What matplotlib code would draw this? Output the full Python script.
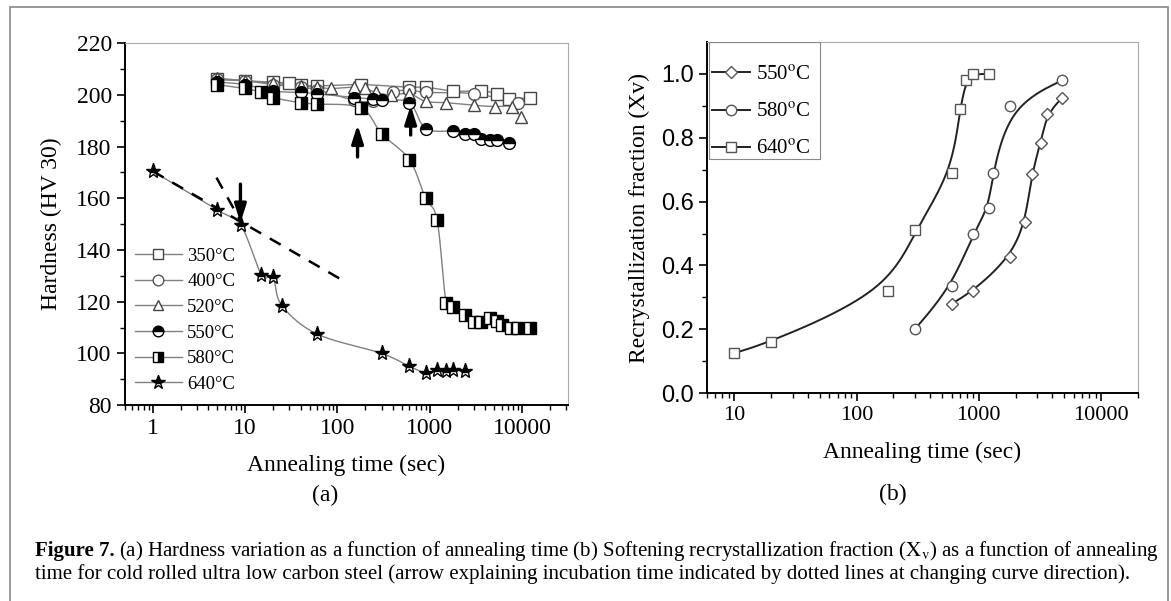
import numpy as np
import matplotlib.pyplot as plt
from matplotlib.patches import Rectangle

plt.rcParams['font.family'] = 'Liberation Serif'
plt.rcParams['mathtext.fontset'] = 'stix'

# ---- (a) hardness vs annealing time ----
t350 = [5, 10, 20, 30, 40, 60, 180, 600, 900, 1800, 3600, 5400, 7200, 12000]
hv350 = [206, 205.5, 205, 204.5, 204, 203.5, 204, 203, 203, 201.5, 201.5, 200.5, 198.5, 199]
t400 = [5, 10, 20, 40, 60, 150, 240, 400, 600, 900, 3000, 9000]
hv400 = [206, 205.5, 204, 203, 202, 198, 197.5, 201, 202, 201, 200.5, 197]
t520 = [5, 10, 20, 40, 60, 85, 150, 200, 260, 380, 600, 900, 1500, 3000, 5100, 7800, 9600]
hv520 = [206.5, 205.5, 204.5, 203.5, 203, 202.5, 203, 202.5, 201, 200, 200.5, 197.5, 197, 196, 195.5, 195.5, 191.5]
t550 = [5, 10, 20, 40, 60, 150, 240, 300, 600, 900, 1800, 2400, 3000, 3600, 4500, 5400, 7200]
hv550 = [205, 204, 201.5, 201, 200.5, 199, 198.5, 198, 197, 187, 186, 185, 185, 183, 182.5, 182.5, 181.5]
t580 = [5, 10, 15, 20, 40, 60, 180, 300, 600, 900, 1200, 1500, 1800, 2400, 3000, 3600,
        4500, 5400, 6000, 7500, 9000, 12000]
hv580 = [204, 202.5, 201, 199, 197, 196.5, 195, 185, 175, 160, 151.5, 119.5, 118, 115, 112, 112,
         113.5, 112.5, 111, 110, 110, 110]
t640 = [1, 5, 9, 15, 20, 25, 60, 300, 600, 900, 1200, 1500, 1800, 2400]
hv640 = [170.5, 155.5, 149.5, 130.5, 129.5, 118.5, 107.5, 100, 95, 92.5, 93.5, 93, 93.5, 93]

# incubation guide lines and arrows
guide1_t, guide1_hv = [1, 105], [170.5, 129]
guide2_t, guide2_hv = [4.9, 9], [168, 151]
arrows_a = [(8.9, 165.5, 8.9, 150.5), (165, 176, 165, 188.5), (620, 184.5, 620, 196)]

# ---- (b) recrystallization fraction ----
t_b550 = [600, 900, 1800, 2400, 2700, 3200, 3600, 4800]
xv550 = [0.28, 0.32, 0.425, 0.535, 0.685, 0.785, 0.875, 0.925]
t_b580 = [300, 600, 900, 1200, 1300, 1800, 4800]
xv580 = [0.20, 0.335, 0.50, 0.58, 0.69, 0.90, 0.98]
t_b640 = [10, 20, 180, 300, 600, 700, 790, 900, 1200]
xv640 = [0.125, 0.16, 0.32, 0.51, 0.69, 0.89, 0.98, 1.0, 1.0]


def catmull(xs, ys, n=25):
    # smooth curve through the points, in log-x space
    p = np.column_stack([np.log10(xs), ys])
    p = np.vstack([p[0], p, p[-1]])
    out = []
    tt = np.linspace(0, 1, n)[:, None]
    for i in range(1, len(p) - 2):
        p0, p1, p2, p3 = p[i - 1], p[i], p[i + 1], p[i + 2]
        seg = 0.5 * (2 * p1 + (-p0 + p2) * tt + (2 * p0 - 5 * p1 + 4 * p2 - p3) * tt ** 2
                     + (-p0 + 3 * p1 - 3 * p2 + p3) * tt ** 3)
        out.append(seg)
    out = np.vstack(out)
    return 10 ** out[:, 0], out[:, 1]


def bspline(xs, ys, n=30):
    # approximating cubic B-spline, in log-x space
    p = np.column_stack([np.log10(xs), ys])
    p = np.vstack([p[0], p[0], p, p[-1], p[-1]])
    t = np.linspace(0, 1, n)[:, None]
    out = []
    for i in range(len(p) - 3):
        p0, p1, p2, p3 = p[i], p[i + 1], p[i + 2], p[i + 3]
        seg = ((1 - t) ** 3 * p0 + (3 * t ** 3 - 6 * t ** 2 + 4) * p1
               + (-3 * t ** 3 + 3 * t ** 2 + 3 * t + 1) * p2 + t ** 3 * p3) / 6
        out.append(seg)
    out = np.vstack(out)
    return 10 ** out[:, 0], out[:, 1]


fig = plt.figure(figsize=(11.71, 6.01), dpi=100)
fig.patches.append(Rectangle((10 / 1171, -0.02), 1158 / 1171, 594 / 601 + 0.02,
                             transform=fig.transFigure, fill=False, ec='#888888', lw=1.2))

# ================= panel (a) =================
ax1 = fig.add_axes([0.1067, 0.326, 0.378, 0.602])
lc = '#808080'
series_a = [
    (t350, hv350, '350°C', dict(marker='s', mfc='white', mec='#444444', fillstyle='full')),
    (t400, hv400, '400°C', dict(marker='o', mfc='white', mec='#555555', fillstyle='full')),
    (t520, hv520, '520°C', dict(marker='^', mfc='white', mec='#444444', fillstyle='full')),
    (t550, hv550, '550°C', dict(marker='o', mfc='black', mfcalt='white', mec='black', fillstyle='top')),
    (t580, hv580, '580°C', dict(marker='s', mfc='black', mfcalt='white', mec='black', fillstyle='right')),
    (t640, hv640, '640°C', dict(marker='*', mfc='black', mfcalt='white', mec='black', fillstyle='top')),
]
handles = []
for t, hv, lab, st in series_a:
    sx, sy = catmull(t, hv)
    ax1.plot(sx, sy, color=lc, lw=1.0, zorder=2)
    ms = 11 if st['marker'] == '*' else 8.5
    ax1.plot(t, hv, ls='none', ms=ms, mew=1.0, zorder=3, **st)
    h, = ax1.plot([], [], color=lc, lw=1.0, ms=ms * 0.9, mew=1.0, **st)
    handles.append((h, lab))

ax1.plot(guide1_t, guide1_hv, color='black', ls=(0, (5, 4)), lw=1.8, zorder=4)
ax1.plot(guide2_t, guide2_hv, color='black', ls=(0, (5, 4)), lw=1.8, zorder=4)
for x0, y0, x1, y1 in arrows_a:
    ax1.annotate('', xy=(x1, y1), xytext=(x0, y0),
                 arrowprops=dict(arrowstyle='-|>,head_length=1.1,head_width=0.35',
                                 color='black', lw=2.4, shrinkA=0, shrinkB=0), zorder=5)

ax1.set_xscale('log')
ax1.set_xlim(0.5, 31000)
ax1.set_ylim(80, 220)
ax1.set_yticks(np.arange(80, 221, 20))
ax1.set_yticks(np.arange(90, 220, 20), minor=True)
ax1.set_xticks([1, 10, 100, 1000, 10000])
ax1.set_xticklabels(['1', '10', '100', '1000', '10000'])
ax1.tick_params(axis='both', which='major', direction='out', length=6, width=1.2, labelsize=17)
ax1.tick_params(axis='both', which='minor', direction='out', length=3.5, width=1.0)
for s in ['top', 'right']:
    ax1.spines[s].set_color('#aaaaaa')
    ax1.spines[s].set_linewidth(0.8)
for s in ['left', 'bottom']:
    ax1.spines[s].set_linewidth(1.4)
ax1.set_ylabel('Hardness (HV 30)', fontsize=17, labelpad=10)
ax1.set_xlabel('Annealing time (sec)', fontsize=17, labelpad=11)
fig.text(325 / 1171, 1 - 495 / 601, '(a)', fontsize=17, ha='center', va='center')
ax1.legend([h for h, _ in handles], [l for _, l in handles], loc='upper left',
           bbox_to_anchor=(0.022, 0.435), frameon=False, fontsize=13.5,
           handlelength=2.5, handletextpad=0.3, labelspacing=0.45, borderpad=0, borderaxespad=0)

# ================= panel (b) =================
ax2 = fig.add_axes([0.6038, 0.346, 0.368, 0.584])
series_b = [
    (t_b550, xv550, '550$^{\\mathrm{o}}$C', 'D', 6.0),
    (t_b580, xv580, '580$^{\\mathrm{o}}$C', 'o', 7.5),
    (t_b640, xv640, '640$^{\\mathrm{o}}$C', 's', 7.0),
]
hb = []
for t, xv, lab, mk, ms in series_b:
    sx, sy = bspline(t, xv)
    ax2.plot(sx, sy, color='#222222', lw=1.4, zorder=2)
    ax2.plot(t, xv, ls='none', marker=mk, ms=ms, mfc='white', mec='#555555', mew=1.0, zorder=3)
    h, = ax2.plot([], [], color='#222222', lw=1.4, marker=mk, ms=ms, mfc='white', mec='#555555', mew=1.0)
    hb.append((h, lab))

ax2.set_xscale('log')
ax2.set_xlim(6, 20000)
ax2.set_ylim(0, 1.1)
ax2.set_yticks(np.arange(0, 1.01, 0.2))
ax2.set_yticks(np.arange(0.1, 1.1, 0.2), minor=True)
ax2.set_xticks([10, 100, 1000, 10000])
ax2.set_xticklabels(['10', '100', '1000', '10000'])
ax2.set_yticklabels(['%.1f' % v for v in np.arange(0, 1.01, 0.2)], family='Liberation Sans', fontsize=17)
ax2.tick_params(axis='both', which='major', direction='out', length=6, width=1.2)
ax2.tick_params(axis='x', which='major', labelsize=16)
ax2.tick_params(axis='both', which='minor', direction='out', length=3.5, width=1.0)
for s in ['top', 'right']:
    ax2.spines[s].set_color('#aaaaaa')
    ax2.spines[s].set_linewidth(0.8)
for s in ['left', 'bottom']:
    ax2.spines[s].set_linewidth(1.4)
ax2.set_ylabel('Recrystallization fraction (Xv)', fontsize=17, labelpad=8)
ax2.set_xlabel('Annealing time (sec)', fontsize=17, labelpad=12)
fig.text(893 / 1171, 1 - 494 / 601, '(b)', fontsize=17, ha='center', va='center')
ax2.legend([h for h, _ in hb], [l for _, l in hb], loc='center left',
           bbox_to_anchor=(0.012, 0.80), frameon=False, fontsize=15,
           handlelength=1.8, handletextpad=0.3, labelspacing=0.85, borderpad=0, borderaxespad=0)
ax2.add_patch(Rectangle((0.005, 0.667), 0.2575, 0.333, transform=ax2.transAxes,
                        fill=False, ec='#888888', lw=0.8, zorder=6))

# ---- caption ----
fig.canvas.draw()
cap_y1 = 1 - 551 / 601
cap_y2 = 1 - 574 / 601
tb = fig.text(35 / 1171, cap_y1, 'Figure 7.', fontsize=15, fontweight='bold', va='center')
fig.canvas.draw()
bb = tb.get_window_extent()
fig.text((bb.x1 + 4) / 1171, cap_y1,
         '(a) Hardness variation as a function of annealing time (b) Softening recrystallization '
         'fraction ($\\mathrm{X_v}$) as a function of annealing', fontsize=15, va='center')
fig.text(35 / 1171, cap_y2,
         'time for cold rolled ultra low carbon steel (arrow explaining incubation time indicated '
         'by dotted lines at changing curve direction).', fontsize=15, va='center')

fig.savefig('out.png', dpi=100)
